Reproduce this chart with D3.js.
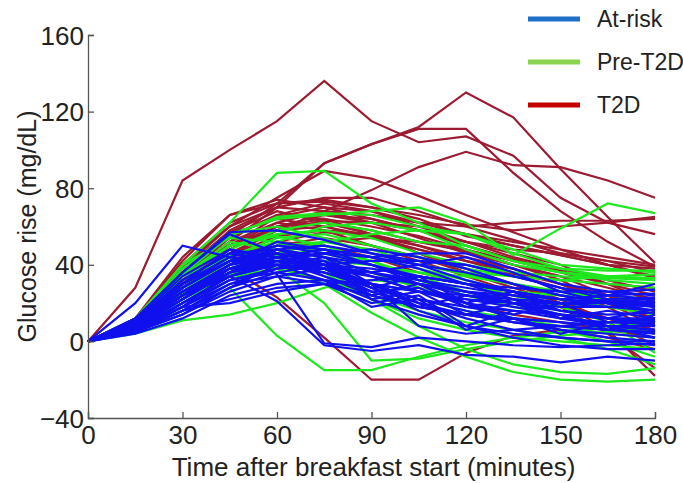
<!DOCTYPE html>
<html>
<head>
<meta charset="utf-8">
<script src="https://cdn.jsdelivr.net/npm/d3@7"></script>
<style>
  html,body{margin:0;padding:0;background:#fff;}
  svg{display:block;font-family:"Liberation Sans",Arial,Helvetica,sans-serif;}
</style>
</head>
<body>
<svg id="chart" width="683" height="483"></svg>
<script>
// ---- data (glucose rise, mg/dL, sampled every 15 min) ----
const times = [0,15,30,45,60,75,90,105,120,135,150,165,180];
const xTicks = [0,30,60,90,120,150,180];
const yTicks = [-40,0,40,80,120,160];
const groups = ['At-risk','Pre-T2D','T2D'];

const t2d = [
  [0,28,84,100,115,136,115,104,107,97,75,62,56],
  [0,10,35,55,72,93,103,111,111,88,68,52,39],
  [0,8,30,52,70,93,103,112,130,117,90,65,41],
  [0,9,28,45,58,68,79,91,99,92,91,84,75],
  [0,10,38,60,75,89,85,76,66,57,48,40,33],
  [0,9,24,38,23,2,-20,-20,-6,3,6,2,-4],
  [0,8,30,50,65,70,68,62,60,62,63,63,64],
  [0,12,40,62,72,74,70,66,61,58,60,62,65],
  [0,10,36,58,70,75,75,68,60,53,46,42,39],
  [0,12,42,66,72,73,70,64,55,50,45,40,34],
  [0,10,35,55,65,66,62,58,52,46,40,30,20],
  [0,8,30,48,60,64,60,55,48,40,34,28,22],
  [0,9,32,50,58,60,55,50,44,38,30,22,14],
  [0,11,38,57,68,62,58,52,47,40,34,24,10],
  [0,7,28,45,55,58,56,50,42,35,28,18,5],
  [0,10,34,52,62,58,50,44,36,30,22,10,-2],
  [0,9,30,50,60,66,64,58,50,43,37,30,28],
  [0,8,26,42,52,57,55,48,42,36,30,24,18],
  [0,12,40,60,70,68,62,54,46,40,32,20,8],
  [0,10,36,55,66,72,68,60,52,44,38,32,26],
  [0,7,25,40,50,54,50,42,34,26,18,4,-14],
  [0,9,30,48,60,62,56,46,38,30,20,6,-18],
  [0,11,36,56,64,60,54,48,42,38,30,20,12],
  [0,8,28,46,58,63,62,60,56,50,45,40,38],
  [0,10,32,50,62,68,66,62,56,52,48,44,40],
  [0,12,44,66,74,70,64,58,52,48,46,42,36],
  [0,6,22,36,46,52,54,52,48,42,36,30,24],
  [0,9,34,54,66,64,56,46,36,28,20,12,6],
  [0,10,30,44,52,50,44,36,30,24,18,12,4],
  [0,8,26,40,48,44,36,28,20,14,10,6,2]
];

const preT2d = [
  [0,12,40,62,88,89,72,62,50,42,36,32,30],
  [0,5,14,28,3,-15,-15,-8,-2,2,5,8,10],
  [0,4,11,14,20,28,32,30,26,22,20,18,16],
  [0,10,36,56,64,66,68,70,62,45,59,72,67],
  [0,10,35,55,65,67,66,60,56,48,40,38,36],
  [0,8,30,48,58,62,58,52,50,42,38,37,37],
  [0,6,22,38,40,30,15,2,-8,-16,-20,-21,-20],
  [0,7,25,40,45,38,22,8,-4,-12,-16,-17,-14],
  [0,9,32,50,55,50,42,32,24,18,14,12,10],
  [0,8,28,45,52,48,40,34,30,26,24,22,20],
  [0,6,20,36,45,48,44,38,32,26,22,18,14],
  [0,10,34,52,48,40,30,22,16,12,8,4,2],
  [0,7,26,42,50,52,48,40,35,30,26,22,18],
  [0,9,30,46,44,36,22,12,6,2,0,-2,-4],
  [0,8,24,38,46,52,56,58,56,46,38,34,32],
  [0,6,22,35,40,42,40,36,30,24,18,10,-6],
  [0,10,38,56,60,54,46,40,36,34,32,30,28],
  [0,8,30,44,38,20,-10,-9,-4,0,3,5,6],
  [0,7,26,44,54,56,50,44,38,34,32,34,35],
  [0,9,34,50,56,58,54,46,40,36,34,33,32],
  [0,5,18,32,42,46,42,34,26,20,14,8,4],
  [0,8,28,42,48,44,36,28,20,12,6,0,-8],
  [0,11,40,54,52,46,40,36,34,30,26,24,22],
  [0,7,24,40,52,60,62,58,48,40,36,34,33],
  [0,6,20,34,38,32,24,16,10,6,2,-4,-12]
];

const atRisk = [
  [0,20,50,44,40,36,30,26,24,22,20,20,21],
  [0,12,36,57,58,53,46,42,40,34,28,24,22],
  [0,8,24,34,21,-2,-5,-2,-7,-8,-11,-8,-10],
  [0,10,30,48,35,-1,-3,2,0,-2,-3,-2,-1],
  [0,6,18,36,48,44,30,18,24,20,12,16,12],
  [0,9,28,42,46,40,30,20,14,10,8,6,5],
  [0,7,22,38,44,46,44,40,36,30,24,20,18],
  [0,5,16,30,38,42,28,34,20,26,16,14,15],
  [0,10,32,46,42,34,26,18,14,12,10,8,8],
  [0,8,26,40,48,50,46,40,32,26,22,20,20],
  [0,6,20,34,40,38,26,28,18,22,12,10,9],
  [0,11,34,48,44,38,30,22,16,10,6,4,2],
  [0,7,24,36,42,40,36,30,26,24,22,24,25],
  [0,9,30,44,50,46,40,34,30,28,26,26,27],
  [0,5,14,28,36,40,42,42,40,34,28,22,18],
  [0,8,24,38,46,42,22,26,14,20,16,12,17],
  [0,6,18,30,34,30,24,18,14,10,8,6,4],
  [0,10,28,42,50,48,44,46,46,38,30,26,24],
  [0,7,20,34,40,36,28,20,12,6,2,0,-2],
  [0,9,26,40,44,40,24,30,18,14,20,10,10],
  [0,4,12,24,30,32,30,26,22,18,14,12,11],
  [0,8,24,38,42,38,30,8,4,6,8,10,12],
  [0,6,18,32,38,40,38,34,30,26,22,20,19],
  [0,11,30,42,40,32,22,14,8,4,2,0,0],
  [0,7,22,36,44,48,44,38,30,22,16,12,8],
  [0,5,16,22,28,30,20,24,8,16,14,6,14],
  [0,9,28,42,48,44,36,30,24,20,18,18,19],
  [0,6,20,34,42,46,48,44,38,30,24,20,16],
  [0,10,32,46,48,40,28,16,8,2,-2,-4,-4],
  [0,7,24,40,52,48,40,32,26,22,20,22,23],
  [0,8,26,36,40,38,36,40,44,36,26,20,16],
  [0,5,14,26,34,38,36,32,28,24,20,18,16],
  [0,12,36,56,46,34,24,18,14,12,10,8,6],
  [0,6,20,32,36,32,18,22,6,12,4,10,10],
  [0,9,30,44,42,38,34,30,26,20,14,8,2],
  [0,7,18,20,26,30,32,34,30,26,22,24,30],
  [0,8,22,36,44,40,34,26,22,20,20,21,22],
  [0,10,26,38,40,36,30,22,18,16,14,12,12],
  [0,6,16,28,40,44,40,30,20,12,6,2,0],
  [0,8,24,40,46,42,34,26,20,16,12,8,6]
];

// ---- layout ----
const svg = d3.select('#chart');
const M = {l:88, r:655, t:35, b:418};
const x = d3.scaleLinear().domain([0,180]).range([M.l, M.r]);
const y = d3.scaleLinear().domain([-40,160]).range([M.b, M.t]);

const lineColor = {'At-risk':'#1111ee','Pre-T2D':'#1ee81e','T2D':'#9c1b31'};
const legendColor = {'At-risk':'#1f6fc8','Pre-T2D':'#8cd450','T2D':'#c40000'};

const line = d3.line().x((d,i)=>x(times[i])).y(d=>y(d));

// draw order: T2D underneath, at-risk on top
[['T2D',t2d],['Pre-T2D',preT2d],['At-risk',atRisk]].forEach(([name,rows])=>{
  svg.append('g').selectAll('path').data(rows).join('path')
    .attr('d', line)
    .attr('fill','none')
    .attr('stroke', lineColor[name])
    .attr('stroke-width', 2.2)
    .attr('stroke-linejoin','miter');
});

// ---- axes (ticks pointing inward) ----
const axisCol = '#555';
const xa = svg.append('g').attr('transform',`translate(0,${M.b})`)
  .call(d3.axisBottom(x).tickValues(xTicks).tickSize(-6).tickPadding(8).tickFormat(d3.format('d')));
const ya = svg.append('g').attr('transform',`translate(${M.l},0)`)
  .call(d3.axisLeft(y).tickValues(yTicks).tickSize(-6).tickPadding(4).tickFormat(d3.format('d')));
[xa,ya].forEach(a=>{
  a.select('.domain').attr('stroke',axisCol).attr('stroke-width',1.3);
  a.selectAll('.tick line').attr('stroke',axisCol).attr('stroke-width',1.3);
  a.selectAll('.tick text').attr('fill','#222').style('font-size','26px');
});
ya.selectAll('.tick text').attr('dy','0.35em');

svg.append('text').attr('x', (M.l+M.r)/2 + 2).attr('y', 476)
  .attr('text-anchor','middle').attr('fill','#222').style('font-size','26px')
  .text('Time after breakfast start (minutes)');
svg.append('text').attr('transform',`translate(36,${(M.t+M.b)/2}) rotate(-90)`)
  .attr('text-anchor','middle').attr('fill','#222').style('font-size','25px')
  .text('Glucose rise (mg/dL)');

// ---- legend ----
const lg = svg.append('g');
groups.forEach((g,i)=>{
  const yy = 19 + i*43;
  lg.append('line').attr('x1',528).attr('x2',580).attr('y1',yy).attr('y2',yy)
    .attr('stroke',legendColor[g]).attr('stroke-width',5);
  lg.append('text').attr('x',597).attr('y',yy).attr('dy','0.35em')
    .attr('fill','#222').style('font-size','23px').text(g);
});
</script>
</body>
</html>
